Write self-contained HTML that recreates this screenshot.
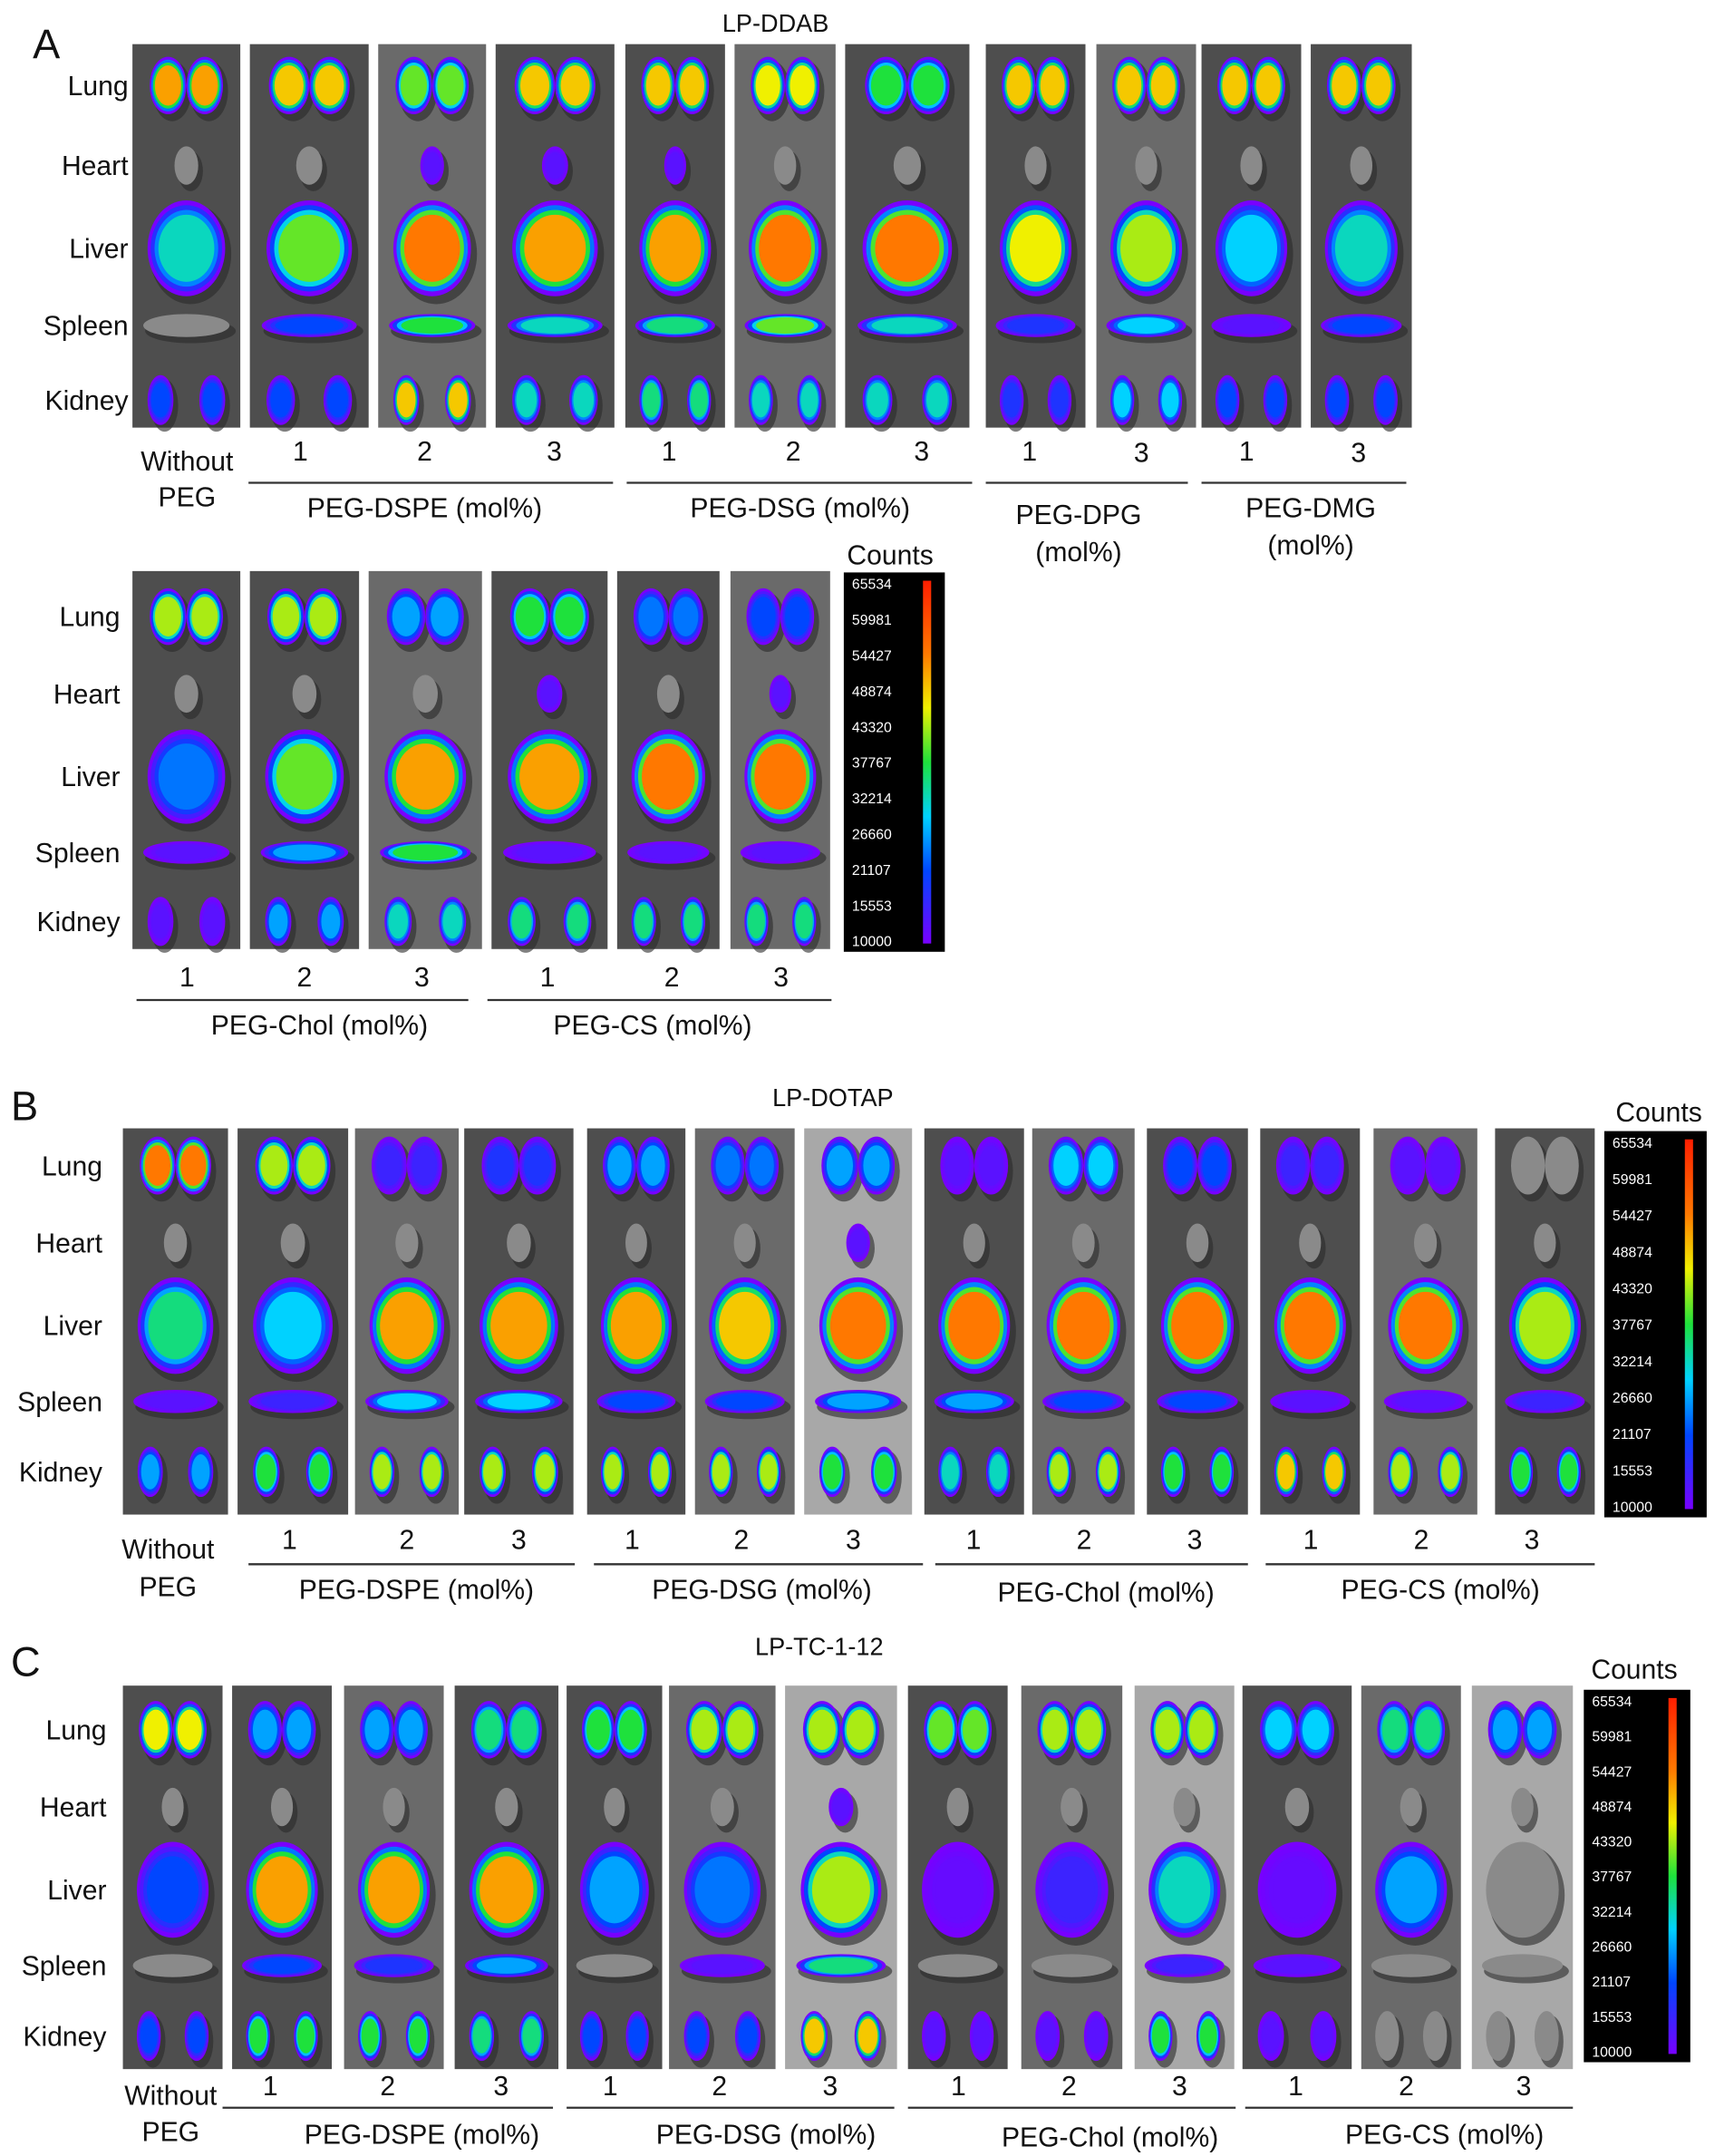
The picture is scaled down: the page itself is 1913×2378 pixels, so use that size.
<!DOCTYPE html>
<html><head><meta charset="utf-8"><style>
html,body{margin:0;padding:0;background:#fff;}
svg{display:block;}
text{font-family:"Liberation Sans",Arial,sans-serif;fill:#111;}
</style></head><body>
<svg id="fig" width="1913" height="2378" viewBox="0 0 1270 1563" preserveAspectRatio="none" xmlns="http://www.w3.org/2000/svg"></svg>
<script>
// ---- data: fluorescence levels (0..1, -1 = no signal) per organ per strip ----
const A1_lung=[.75,.7,.55,.7,.7,.65,.5,.7,.7,.7,.7];
const A1_heart=[-1,-1,.05,.05,.05,-1,-1,-1,-1,-1,-1];
const A1_liver=[.4,.55,.8,.75,.75,.8,.8,.65,.6,.35,.4];
const A1_spleen=[-1,.2,.5,.4,.45,.55,.4,.15,.35,.05,.2];
const A1_kidney=[.2,.2,.7,.4,.45,.4,.4,.15,.35,.2,.2];
const A2_lung=[.6,.6,.3,.5,.25,.2];
const A2_heart=[-1,-1,-1,.05,-1,.05];
const A2_liver=[.25,.55,.75,.75,.8,.8];
const A2_spleen=[.05,.3,.5,.05,.05,.05];
const A2_kidney=[.05,.3,.4,.45,.45,.45];
const B_lung=[.8,.6,.1,.15,.3,.25,.3,.05,.35,.2,.1,.05,-1];
const B_heart=[-1,-1,-1,-1,-1,-1,.05,-1,-1,-1,-1,-1,-1];
const B_liver=[.45,.35,.75,.75,.75,.7,.8,.8,.8,.8,.8,.8,.6];
const B_spleen=[.05,.1,.35,.35,.2,.2,.3,.3,.2,.2,.05,.05,.1];
const B_kidney=[.3,.5,.6,.6,.6,.6,.5,.4,.6,.5,.7,.6,.5];
const C_lung=[.65,.3,.3,.45,.5,.6,.6,.55,.6,.6,.35,.45,.3];
const C_heart=[-1,-1,-1,-1,-1,-1,.05,-1,-1,-1,-1,-1,-1];
const C_liver=[.2,.75,.75,.75,.3,.25,.6,.03,.1,.4,.03,.3,-1];
const C_spleen=[-1,.2,.15,.3,-1,.05,.45,-1,-1,.1,.05,-1,-1];
const C_kidney=[.2,.5,.5,.45,.2,.2,.7,.05,.05,.5,.05,-1,-1];
const countTicks=["65534","59981","54427","48874","43320","37767","32214","26660","21107","15553","10000"];
const organNames=["Lung","Heart","Liver","Spleen","Kidney"];

const NS="http://www.w3.org/2000/svg";
const svg=document.getElementById('fig');
function mk(tag,attrs,parent){const e=document.createElementNS(NS,tag);for(const k in attrs)e.setAttribute(k,attrs[k]);(parent||svg).appendChild(e);return e;}
function txt(s,x,y,size,anchor,parent){const t=mk('text',{x:x,y:y,'font-size':size,'text-anchor':anchor||'middle'},parent);t.textContent=s;return t;}
const stops=[[0,[120,0,255]],[.2,[0,70,255]],[.35,[0,210,255]],[.5,[30,225,60]],[.65,[240,240,0]],[.8,[255,120,0]],[1,[255,30,0]]];
function cmap(v){v=Math.max(0,Math.min(1,v));for(let i=1;i<stops.length;i++){if(v<=stops[i][0]){const a=stops[i-1],b=stops[i],f=(v-a[0])/(b[0]-a[0]);const c=a[1].map((x,j)=>Math.round(x+(b[1][j]-x)*f));return 'rgb('+c.join(',')+')';}}return 'rgb(255,30,0)';}
function blob(g,cx,cy,rx,ry,v){
  mk('ellipse',{cx:cx+3,cy:cy+4,rx:rx*1.05,ry:ry*1.05,fill:'#2a2a2a',opacity:.6},g);
  if(v<0){mk('ellipse',{cx:cx,cy:cy,rx:rx,ry:ry,fill:'#8a8a8a'},g);return;}
  mk('ellipse',{cx:cx,cy:cy,rx:rx,ry:ry,fill:cmap(0)},g);
  let k=1;
  for(;k<=4;k++){mk('ellipse',{cx:cx,cy:cy,rx:rx*(0.92-0.1*(k-1)),ry:ry*(0.9-0.1*(k-1)),fill:cmap(Math.min(v,v*(k/3)))},g);}
}
function panel(name,xs,y0,y1,rows,data,labelX){
  const g=mk('g',{});
  
  
  const h=y1-y0;
  organNames.forEach((o,i)=>{const t=txt(o,labelX,rows[i]+7,20,'end');});
  xs.forEach((s,i)=>{
    const w=s[1]-s[0],cx=(s[0]+s[1])/2;
    const bg=(name==='panel-b'&&i===6)||(name==='panel-c'&&(i===6||i===9||i===12))?'#a8a8a8':(i%3===2?'#6a6a6a':'#4e4e4e');
    const r=mk('rect',{x:s[0],y:y0,width:w,height:h,fill:bg},g);
    
    
    blob(g,cx-w*0.17,rows[0],w*0.17,h*0.075,data[0][i]);
    blob(g,cx+w*0.17,rows[0],w*0.17,h*0.075,data[0][i]);
    blob(g,cx,rows[1],w*0.11,h*0.05,data[1][i]);
    blob(g,cx,rows[2],w*0.36,h*0.125,data[2][i]);
    blob(g,cx,rows[3],w*0.4,h*0.03,data[3][i]);
    blob(g,cx-w*0.24,rows[4],w*0.12,h*0.065,data[4][i]);
    blob(g,cx+w*0.24,rows[4],w*0.12,h*0.065,data[4][i]);
  });
}
function colorbar(name,x,y,w,h,cx,cy){
  const g=mk('g',{});
  
  
  const t=txt('Counts',cx,cy,20);
  
  
  mk('rect',{x:x,y:y,width:w,height:h,fill:'#000'},g);
  const gid='grad'+name;
  const d=mk('defs',{},g);const lg=mk('linearGradient',{id:gid,x1:0,y1:1,x2:0,y2:0},d);
  stops.forEach(s=>mk('stop',{offset:s[0],'stop-color':cmap(s[0])},lg));
  mk('rect',{x:x+w-16,y:y+6,width:6,height:h-12,fill:'url(#'+gid+')'},g);
  countTicks.forEach((c,i)=>{const yy=y+8+(h-16)*i/(countTicks.length-1);const tt=txt(c,x+6,yy+4,10.5,'start',g);tt.style.fill='#fff';});
}
function labels(name,nums,lines,lineY,labY,groups){
  nums.forEach(n=>{const t=txt(n[0],n[1],n[2],20);});
  lines.forEach((l,i)=>{const ln=mk('line',{x1:l[0],x2:l[1],y1:lineY,y2:lineY,stroke:'#333','stroke-width':1.5});});
  groups.forEach(gp=>{const t=txt(gp[0],gp[1],gp[2],20);});
}
function title(s,x,y,name){const t=txt(s,x,y,18);}
function letter(s,x,y){const t=txt(s,x,y,30,'start');}

// Panel A
letter('A',24,42);title('LP-DDAB',568,23,'panel-a-title');
panel('panel-a',[[97,176],[183,270],[277,356],[363,450],[458,531],[538,612],[619,710],[722,795],[803,876],[880,953],[960,1034]],32,310,[62,120,180,236,290],[A1_lung,A1_heart,A1_liver,A1_spleen,A1_kidney],94);
labels('panel-a',[['Without',137,341],['PEG',137,367],['1',220,334],['2',311,334],['3',406,334],['1',490,334],['2',581,334],['3',675,334],['1',754,334],['3',836,335],['1',913,334],['3',995,335]],[[182,449],[459,712],[722,870],[880,1030]],350,375,[['PEG-DSPE (mol%)',311,375],['PEG-DSG (mol%)',586,375],['PEG-DPG',790,380],['(mol%)',790,407],['PEG-DMG',960,375],['(mol%)',960,402]]);
panel('panel-a2',[[97,176],[183,263],[270,353],[360,445],[452,527],[535,608]],414,688,[447,503,563,618,668],[A2_lung,A2_heart,A2_liver,A2_spleen,A2_kidney],88);
colorbar('colorbar-a',618,415,74,275,652,409);
labels('panel-a2',[['1',137,715],['2',223,715],['3',309,715],['1',401,715],['2',492,715],['3',572,715]],[[100,343],[357,609]],725,750,[['PEG-Chol (mol%)',234,750],['PEG-CS (mol%)',478,750]]);
// Panel B
letter('B',8,812);title('LP-DOTAP',610,802,'panel-b-title');
panel('panel-b',[[90,167],[174,255],[260,336],[340,420],[430,502],[509,582],[589,668],[677,750],[756,831],[840,914],[923,996],[1006,1082],[1095,1168]],818,1098,[845,901,961,1016,1067],[B_lung,B_heart,B_liver,B_spleen,B_kidney],75);
colorbar('colorbar-b',1175,820,75,280,1215,813);
labels('panel-b',[['Without',123,1130],['PEG',123,1157],['1',212,1123],['2',298,1123],['3',380,1123],['1',463,1123],['2',543,1123],['3',625,1123],['1',713,1123],['2',794,1123],['3',875,1123],['1',960,1123],['2',1041,1123],['3',1122,1123]],[[182,421],[435,676],[685,914],[927,1168]],1134,1159,[['PEG-DSPE (mol%)',305,1159],['PEG-DSG (mol%)',558,1159],['PEG-Chol (mol%)',810,1161],['PEG-CS (mol%)',1055,1159]]);
// Panel C
letter('C',8,1215);title('LP-TC-1-12',600,1200,'panel-c-title');
panel('panel-c',[[90,163],[170,243],[252,325],[333,409],[415,485],[490,568],[575,657],[665,738],[748,822],[831,904],[910,990],[997,1070],[1078,1152]],1222,1500,[1254,1310,1370,1425,1476],[C_lung,C_heart,C_liver,C_spleen,C_kidney],78);
colorbar('colorbar-c',1160,1225,78,270,1197,1217);
labels('panel-c',[['Without',125,1526],['PEG',125,1552],['1',198,1519],['2',284,1519],['3',367,1519],['1',447,1519],['2',527,1519],['3',608,1519],['1',702,1519],['2',783,1519],['3',864,1519],['1',949,1519],['2',1030,1519],['3',1116,1519]],[[163,405],[415,655],[665,905],[912,1152]],1528,1554,[['PEG-DSPE (mol%)',309,1554],['PEG-DSG (mol%)',561,1554],['PEG-Chol (mol%)',813,1556],['PEG-CS (mol%)',1058,1554]]);
</script>
</body></html>
